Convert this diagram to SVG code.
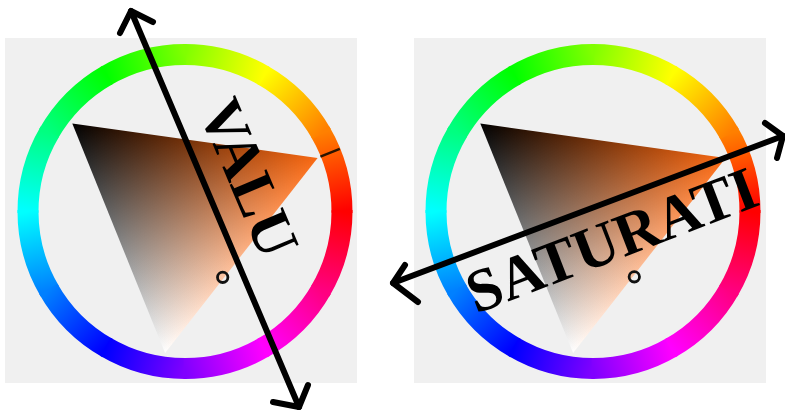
<svg xmlns="http://www.w3.org/2000/svg" width="785" height="414" viewBox="0 0 785 414">
<style>
.panel{fill:#f0f0f0}
.seg{fill:none;stroke-width:21;stroke-dasharray:31 400}
.arrow{fill:none;stroke:#000;stroke-width:6;stroke-linecap:round;stroke-linejoin:round}
.label{font-family:"Liberation Serif","Times New Roman",serif;font-weight:bold;font-size:61px;fill:#000}
.marker{fill:none;stroke:#111;stroke-width:2.8}
.tick{stroke:#2a1400;stroke-width:2.5}
</style>
<defs>
<linearGradient id="h0" gradientUnits="userSpaceOnUse" x1="156.99" y1="1.37" x2="135.27" y2="79.68"><stop offset="0" stop-color="#ff8000"/><stop offset="1" stop-color="#ff0000"/></linearGradient>
<linearGradient id="h30" gradientUnits="userSpaceOnUse" x1="156.99" y1="1.37" x2="135.27" y2="79.68"><stop offset="0" stop-color="#ffff00"/><stop offset="1" stop-color="#ff8000"/></linearGradient>
<linearGradient id="h60" gradientUnits="userSpaceOnUse" x1="156.99" y1="1.37" x2="135.27" y2="79.68"><stop offset="0" stop-color="#80ff00"/><stop offset="1" stop-color="#ffff00"/></linearGradient>
<linearGradient id="h90" gradientUnits="userSpaceOnUse" x1="156.99" y1="1.37" x2="135.27" y2="79.68"><stop offset="0" stop-color="#00ff00"/><stop offset="1" stop-color="#80ff00"/></linearGradient>
<linearGradient id="h120" gradientUnits="userSpaceOnUse" x1="156.99" y1="1.37" x2="135.27" y2="79.68"><stop offset="0" stop-color="#00ff80"/><stop offset="1" stop-color="#00ff00"/></linearGradient>
<linearGradient id="h150" gradientUnits="userSpaceOnUse" x1="156.99" y1="1.37" x2="135.27" y2="79.68"><stop offset="0" stop-color="#00ffff"/><stop offset="1" stop-color="#00ff80"/></linearGradient>
<linearGradient id="h180" gradientUnits="userSpaceOnUse" x1="156.99" y1="1.37" x2="135.27" y2="79.68"><stop offset="0" stop-color="#0080ff"/><stop offset="1" stop-color="#00ffff"/></linearGradient>
<linearGradient id="h210" gradientUnits="userSpaceOnUse" x1="156.99" y1="1.37" x2="135.27" y2="79.68"><stop offset="0" stop-color="#0000ff"/><stop offset="1" stop-color="#0080ff"/></linearGradient>
<linearGradient id="h240" gradientUnits="userSpaceOnUse" x1="156.99" y1="1.37" x2="135.27" y2="79.68"><stop offset="0" stop-color="#8000ff"/><stop offset="1" stop-color="#0000ff"/></linearGradient>
<linearGradient id="h270" gradientUnits="userSpaceOnUse" x1="156.99" y1="1.37" x2="135.27" y2="79.68"><stop offset="0" stop-color="#ff00ff"/><stop offset="1" stop-color="#8000ff"/></linearGradient>
<linearGradient id="h300" gradientUnits="userSpaceOnUse" x1="156.99" y1="1.37" x2="135.27" y2="79.68"><stop offset="0" stop-color="#ff0080"/><stop offset="1" stop-color="#ff00ff"/></linearGradient>
<linearGradient id="h330" gradientUnits="userSpaceOnUse" x1="156.99" y1="1.37" x2="135.27" y2="79.68"><stop offset="0" stop-color="#ff0000"/><stop offset="1" stop-color="#ff0080"/></linearGradient>
<g id="ring">
<circle class="seg" r="157" pathLength="360" transform="rotate(-30.5)" stroke="url(#h0)"/>
<circle class="seg" r="157" pathLength="360" transform="rotate(-60.5)" stroke="url(#h30)"/>
<circle class="seg" r="157" pathLength="360" transform="rotate(-90.5)" stroke="url(#h60)"/>
<circle class="seg" r="157" pathLength="360" transform="rotate(-120.5)" stroke="url(#h90)"/>
<circle class="seg" r="157" pathLength="360" transform="rotate(-150.5)" stroke="url(#h120)"/>
<circle class="seg" r="157" pathLength="360" transform="rotate(-180.5)" stroke="url(#h150)"/>
<circle class="seg" r="157" pathLength="360" transform="rotate(-210.5)" stroke="url(#h180)"/>
<circle class="seg" r="157" pathLength="360" transform="rotate(-240.5)" stroke="url(#h210)"/>
<circle class="seg" r="157" pathLength="360" transform="rotate(-270.5)" stroke="url(#h240)"/>
<circle class="seg" r="157" pathLength="360" transform="rotate(-300.5)" stroke="url(#h270)"/>
<circle class="seg" r="157" pathLength="360" transform="rotate(-330.5)" stroke="url(#h300)"/>
<circle class="seg" r="157" pathLength="360" transform="rotate(-360.5)" stroke="url(#h330)"/>
</g>
<linearGradient id="gh" gradientUnits="userSpaceOnUse" x1="132.6" y1="-53.6" x2="-66.3" y2="26.8">
<stop offset="0" stop-color="#f86812"/><stop offset="1" stop-color="#000"/>
</linearGradient>
<linearGradient id="gw" gradientUnits="userSpaceOnUse" x1="-19.9" y1="141.6" x2="10" y2="-70.8">
<stop offset="0" stop-color="#fff"/><stop offset="1" stop-color="#000"/>
</linearGradient>
<path id="tri" d="M132.6,-53.6 L-112.7,-88 L-19.9,141.6 Z"/>
<g id="wheel">
<use href="#ring"/>
<use href="#tri" fill="url(#gh)"/>
<use href="#tri" fill="url(#gw)" style="mix-blend-mode:plus-lighter"/>
</g>
</defs>
<rect width="785" height="414" fill="#fff"/>
<g id="value-wheel">
<rect class="panel" x="5" y="38" width="352" height="345"/>
<use href="#wheel" transform="translate(185,211.5)"/>
<line class="tick" x1="320.4" y1="156.7" x2="339.8" y2="148.9"/>
<circle class="marker" cx="222.7" cy="277.3" r="5.2"/>
</g>
<g id="saturation-wheel">
<rect class="panel" x="414" y="38" width="352" height="345"/>
<use href="#wheel" transform="translate(593,211.5)"/>
<circle class="marker" cx="634.3" cy="276.8" r="5.2"/>
</g>
<g id="connectors">
<path class="arrow" d="M131,11 L299,407"/>
<path class="arrow" d="M120,33 L131,11 L153,22"/>
<path class="arrow" d="M273,402 L299,407 L308,385"/>
<path class="arrow" d="M393,283 L783,136"/>
<path class="arrow" d="M405,265 L393,283 L418,302"/>
<path class="arrow" d="M765,123 L783,136 L777,158"/>
</g>
<g id="labels">
<text class="label" transform="translate(198,110) rotate(67)">VALU</text>
<text class="label" transform="translate(476,314) rotate(-21)">SATURATI</text>
</g>
</svg>
